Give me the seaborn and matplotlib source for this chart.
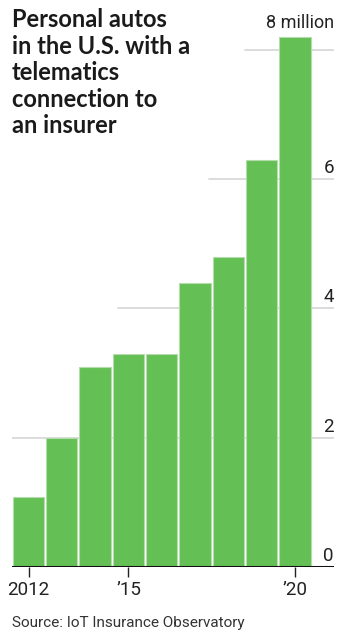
import matplotlib
matplotlib.use("Agg")
import matplotlib.pyplot as plt
import matplotlib.transforms as mtransforms
from matplotlib import font_manager
import seaborn as sns
import pandas as pd

years = ["2012", "2013", "2014", "2015", "2016", "2017", "2018", "2019", "2020"]
autos_millions = [1.09, 1.99, 3.09, 3.29, 3.29, 4.39, 4.79, 6.29, 8.20]
tick_positions = [0, 3, 8]
tick_labels = ["2012", "\u201915", "\u201920"]
y_ticks = [0, 2, 4, 6, 8]
y_tick_labels = ["0", "2", "4", "6", "8 million"]
title = "Personal autos\nin the U.S. with a\ntelematics\nconnection to\nan insurer"
source = "Source: IoT Insurance Observatory"

names = {f.name for f in font_manager.fontManager.ttflist}
narrow = "Liberation Sans Narrow" if "Liberation Sans Narrow" in names else "Roboto"

sns.set_theme(style="white")
plt.rcParams["font.family"] = [narrow, "DejaVu Sans"]

df = pd.DataFrame({"year": years, "autos": autos_millions})

fig = plt.figure(figsize=(3.48, 6.41), dpi=100)
W, H = 348, 641
ax = fig.add_axes([11.7 / W, (641 - 567) / H, (334 - 11.7) / W, 8.6 * 64.65 / H])

sns.barplot(data=df, x="year", y="autos", order=years, color="#64bf55",
            saturation=1, width=0.94, edgecolor="#b5dcab", linewidth=0.8,
            ax=ax, zorder=3)

ax.set_xlim(-0.505, 9.17)
ax.set_ylim(0, 8.6)

# gridlines (WSJ-style, partial)
grid_start = {2: 0.0, 4: 0.33, 6: 0.612, 8: 0.724}
for v in y_ticks[1:]:
    ax.axhline(v, xmin=grid_start[v], xmax=1.0, color="#d9d9d9", lw=1.3, zorder=1)
ax.axhline(0, color="#111111", lw=2.2, zorder=4)

for s in ax.spines.values():
    s.set_visible(False)

ax.set_yticks([])
ax.set_xticks(tick_positions)
ax.set_xticklabels(tick_labels, fontsize=13.5, color="#222222")
ax.tick_params(axis="x", length=7, width=1, color="#222222", pad=3, bottom=True)
ax.set_xlabel("")
ax.set_ylabel("")

trans = mtransforms.blended_transform_factory(ax.transAxes, ax.transData)
for v, lab in zip(y_ticks, y_tick_labels):
    yy = v + 0.095 if v < 8 else 8.34
    ax.text(1.0, yy, lab, transform=trans, ha="right", va="baseline",
            fontsize=13.5 if v < 8 else 13, color="#222222")

fig.text(12 / W, 1 - 8 / H, title, ha="left", va="top", fontsize=17,
         fontweight="bold", color="#1a1a1a", linespacing=1.19,
         family=["Lato", "DejaVu Sans"])
fig.text(12 / W, 1 - 627 / H, source, ha="left", va="baseline", fontsize=11,
         color="#333333")

fig.savefig("out.png", dpi=100)
